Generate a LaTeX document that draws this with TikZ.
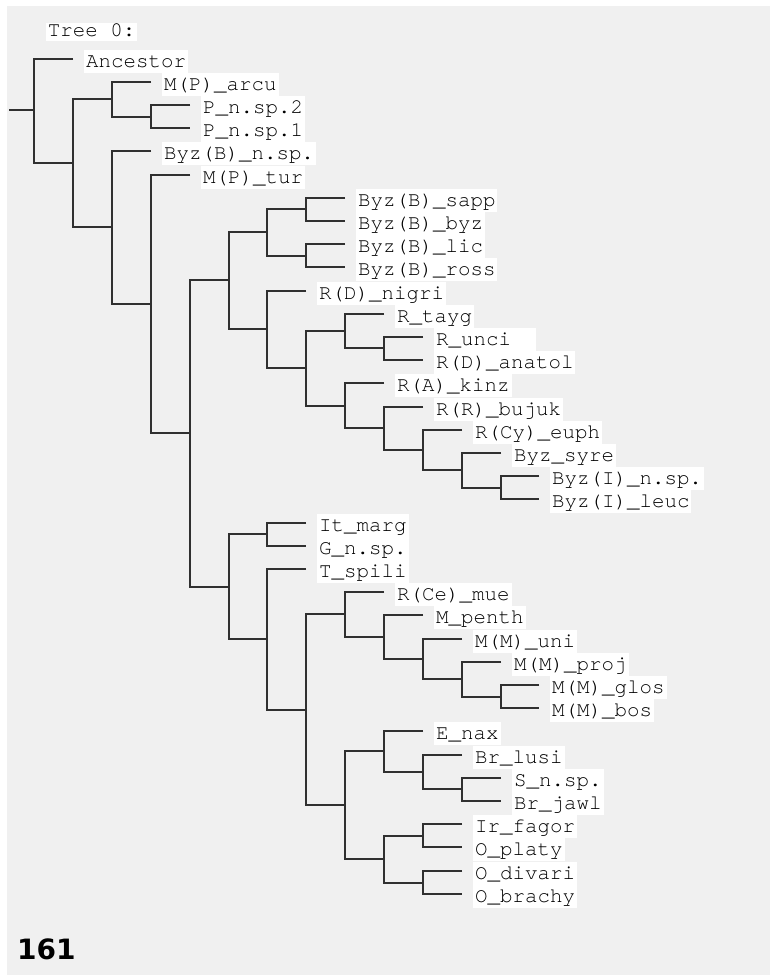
\documentclass[tikz,border=0pt]{standalone}
\usepackage{fontspec}
\newfontfamily\taxfont{texgyrecursor-regular.otf}
\newfontfamily\numfont{DejaVu Sans}
\usetikzlibrary{positioning}
\definecolor{panelgray}{HTML}{F0F0F0}
\definecolor{branchgray}{HTML}{303030}
\tikzset{
  branch/.style={draw=branchgray, line width=2pt},
  taxon/.style={fill=white, font=\taxfont\fontsize{20.8}{23}\selectfont,
    inner xsep=2pt, inner ysep=0pt, text height=18pt, text depth=5.2pt, yshift=-2.1pt},
  heading/.style={fill=white, font=\taxfont\fontsize{20.8}{23}\selectfont,
    inner xsep=2pt, inner ysep=0pt, text height=14pt, text depth=4.3pt},
}
\begin{document}
\begin{tikzpicture}[x=1pt, y=-1pt]
  \useasboundingbox (0,0) rectangle (770,975);
  \fill[white] (0,0) rectangle (770,975);
  \fill[panelgray] (7,6) rectangle (770,975);
  \node[heading, anchor=base west] (title) at (45.7,36.7) {Tree 0:};
  \node[anchor=base west, inner sep=0pt, font=\numfont\bfseries\fontsize{28}{28}\selectfont] (pagenum) at (17,959) {161};
  % clades
  \coordinate (stem) at (9,110);
  \coordinate (root) at (34,110);
  \coordinate (a1) at (73,163);
  \coordinate (a2) at (112,99);
  \coordinate (pp) at (151,117);
  \coordinate (a3) at (112,227);
  \coordinate (a4) at (151,304);
  \coordinate (a5) at (190,433);
  \coordinate (b1) at (229,280);
  \coordinate (c1) at (267,232);
  \coordinate (sb) at (306,209);
  \coordinate (lr) at (306,256);
  \coordinate (c2) at (267,329);
  \coordinate (d1) at (306,368);
  \coordinate (e1) at (345,331);
  \coordinate (ua) at (384,348);
  \coordinate (e2) at (345,406);
  \coordinate (f1) at (384,428);
  \coordinate (g1) at (423,450);
  \coordinate (h1) at (462,470);
  \coordinate (il) at (501,488);
  \coordinate (b2) at (229,587);
  \coordinate (mg) at (267,534);
  \coordinate (ts) at (267,639);
  \coordinate (j1) at (306,710);
  \coordinate (k1) at (345,614);
  \coordinate (l1) at (384,637);
  \coordinate (m1) at (423,659);
  \coordinate (n1) at (462,679);
  \coordinate (gb) at (501,697);
  \coordinate (p1) at (345,805);
  \coordinate (q1) at (384,751);
  \coordinate (r1) at (423,772);
  \coordinate (sj) at (462,789);
  \coordinate (s1) at (384,859);
  \coordinate (fp) at (423,836);
  \coordinate (db) at (423,883);
  % leaves
  \path (73,59) coordinate (anc-t) node[taxon, right=11pt] (anc) {Ancestor};
  \path (151,82) coordinate (arcu-t) node[taxon, right=11pt] (arcu) {M(P)\_arcu};
  \path (190,105) coordinate (psp2-t) node[taxon, right=11pt] (psp2) {P\_n.sp.2};
  \path (190,128) coordinate (psp1-t) node[taxon, right=11pt] (psp1) {P\_n.sp.1};
  \path (151,151) coordinate (bsp-t) node[taxon, right=11pt] (bsp) {Byz(B)\_n.sp.};
  \path (190,175) coordinate (tur-t) node[taxon, right=11pt] (tur) {M(P)\_tur};
  \path (345,198) coordinate (sapp-t) node[taxon, right=11pt] (sapp) {Byz(B)\_sapp};
  \path (345,221) coordinate (byz-t) node[taxon, right=11pt] (byz) {Byz(B)\_byz};
  \path (345,244) coordinate (lic-t) node[taxon, right=11pt] (lic) {Byz(B)\_lic};
  \path (345,267) coordinate (ross-t) node[taxon, right=11pt] (ross) {Byz(B)\_ross};
  \path (306,291) coordinate (nigri-t) node[taxon, right=11pt] (nigri) {R(D)\_nigri};
  \path (384,314) coordinate (tayg-t) node[taxon, right=11pt] (tayg) {R\_tayg};
  \path (423,337) coordinate (unci-t) node[taxon, right=11pt, align=left, text width=98pt] (unci) {R\_unci};
  \path (423,360) coordinate (anatol-t) node[taxon, right=11pt] (anatol) {R(D)\_anatol};
  \path (384,383) coordinate (kinz-t) node[taxon, right=11pt] (kinz) {R(A)\_kinz};
  \path (423,407) coordinate (bujuk-t) node[taxon, right=11pt] (bujuk) {R(R)\_bujuk};
  \path (462,430) coordinate (euph-t) node[taxon, right=11pt] (euph) {R(Cy)\_euph};
  \path (501,453) coordinate (syre-t) node[taxon, right=11pt] (syre) {Byz\_syre};
  \path (539,476) coordinate (isp-t) node[taxon, right=11pt] (isp) {Byz(I)\_n.sp.};
  \path (539,499) coordinate (leuc-t) node[taxon, right=11pt] (leuc) {Byz(I)\_leuc};
  \path (306,523) coordinate (marg-t) node[taxon, right=11pt] (marg) {It\_marg};
  \path (306,546) coordinate (gsp-t) node[taxon, right=11pt] (gsp) {G\_n.sp.};
  \path (306,569) coordinate (spili-t) node[taxon, right=11pt] (spili) {T\_spili};
  \path (384,592) coordinate (mue-t) node[taxon, right=11pt] (mue) {R(Ce)\_mue};
  \path (423,615) coordinate (penth-t) node[taxon, right=11pt] (penth) {M\_penth};
  \path (462,639) coordinate (uni-t) node[taxon, right=11pt] (uni) {M(M)\_uni};
  \path (501,662) coordinate (proj-t) node[taxon, right=11pt] (proj) {M(M)\_proj};
  \path (539,685) coordinate (glos-t) node[taxon, right=11pt] (glos) {M(M)\_glos};
  \path (539,708) coordinate (bos-t) node[taxon, right=11pt] (bos) {M(M)\_bos};
  \path (423,731) coordinate (nax-t) node[taxon, right=11pt] (nax) {E\_nax};
  \path (462,755) coordinate (lusi-t) node[taxon, right=11pt] (lusi) {Br\_lusi};
  \path (501,778) coordinate (ssp-t) node[taxon, right=11pt] (ssp) {S\_n.sp.};
  \path (501,801) coordinate (jawl-t) node[taxon, right=11pt] (jawl) {Br\_jawl};
  \path (462,824) coordinate (fagor-t) node[taxon, right=11pt] (fagor) {Ir\_fagor};
  \path (462,847) coordinate (platy-t) node[taxon, right=11pt] (platy) {O\_platy};
  \path (462,871) coordinate (divari-t) node[taxon, right=11pt] (divari) {O\_divari};
  \path (462,894) coordinate (brachy-t) node[taxon, right=11pt] (brachy) {O\_brachy};
  % branches
  \draw[branch] (stem) -- (root);
  \draw[branch] (anc-t) -| (root) |- (a1);
  \draw[branch] (a2) -| (a1) |- (a3);
  \draw[branch] (arcu-t) -| (a2) |- (pp);
  \draw[branch] (psp2-t) -| (pp) |- (psp1-t);
  \draw[branch] (bsp-t) -| (a3) |- (a4);
  \draw[branch] (tur-t) -| (a4) |- (a5);
  \draw[branch] (b1) -| (a5) |- (b2);
  \draw[branch] (c1) -| (b1) |- (c2);
  \draw[branch] (sb) -| (c1) |- (lr);
  \draw[branch] (sapp-t) -| (sb) |- (byz-t);
  \draw[branch] (lic-t) -| (lr) |- (ross-t);
  \draw[branch] (nigri-t) -| (c2) |- (d1);
  \draw[branch] (e1) -| (d1) |- (e2);
  \draw[branch] (tayg-t) -| (e1) |- (ua);
  \draw[branch] (unci-t) -| (ua) |- (anatol-t);
  \draw[branch] (kinz-t) -| (e2) |- (f1);
  \draw[branch] (bujuk-t) -| (f1) |- (g1);
  \draw[branch] (euph-t) -| (g1) |- (h1);
  \draw[branch] (syre-t) -| (h1) |- (il);
  \draw[branch] (isp-t) -| (il) |- (leuc-t);
  \draw[branch] (mg) -| (b2) |- (ts);
  \draw[branch] (marg-t) -| (mg) |- (gsp-t);
  \draw[branch] (spili-t) -| (ts) |- (j1);
  \draw[branch] (k1) -| (j1) |- (p1);
  \draw[branch] (mue-t) -| (k1) |- (l1);
  \draw[branch] (penth-t) -| (l1) |- (m1);
  \draw[branch] (uni-t) -| (m1) |- (n1);
  \draw[branch] (proj-t) -| (n1) |- (gb);
  \draw[branch] (glos-t) -| (gb) |- (bos-t);
  \draw[branch] (q1) -| (p1) |- (s1);
  \draw[branch] (nax-t) -| (q1) |- (r1);
  \draw[branch] (lusi-t) -| (r1) |- (sj);
  \draw[branch] (ssp-t) -| (sj) |- (jawl-t);
  \draw[branch] (fp) -| (s1) |- (db);
  \draw[branch] (fagor-t) -| (fp) |- (platy-t);
  \draw[branch] (divari-t) -| (db) |- (brachy-t);
\end{tikzpicture}
\end{document}
